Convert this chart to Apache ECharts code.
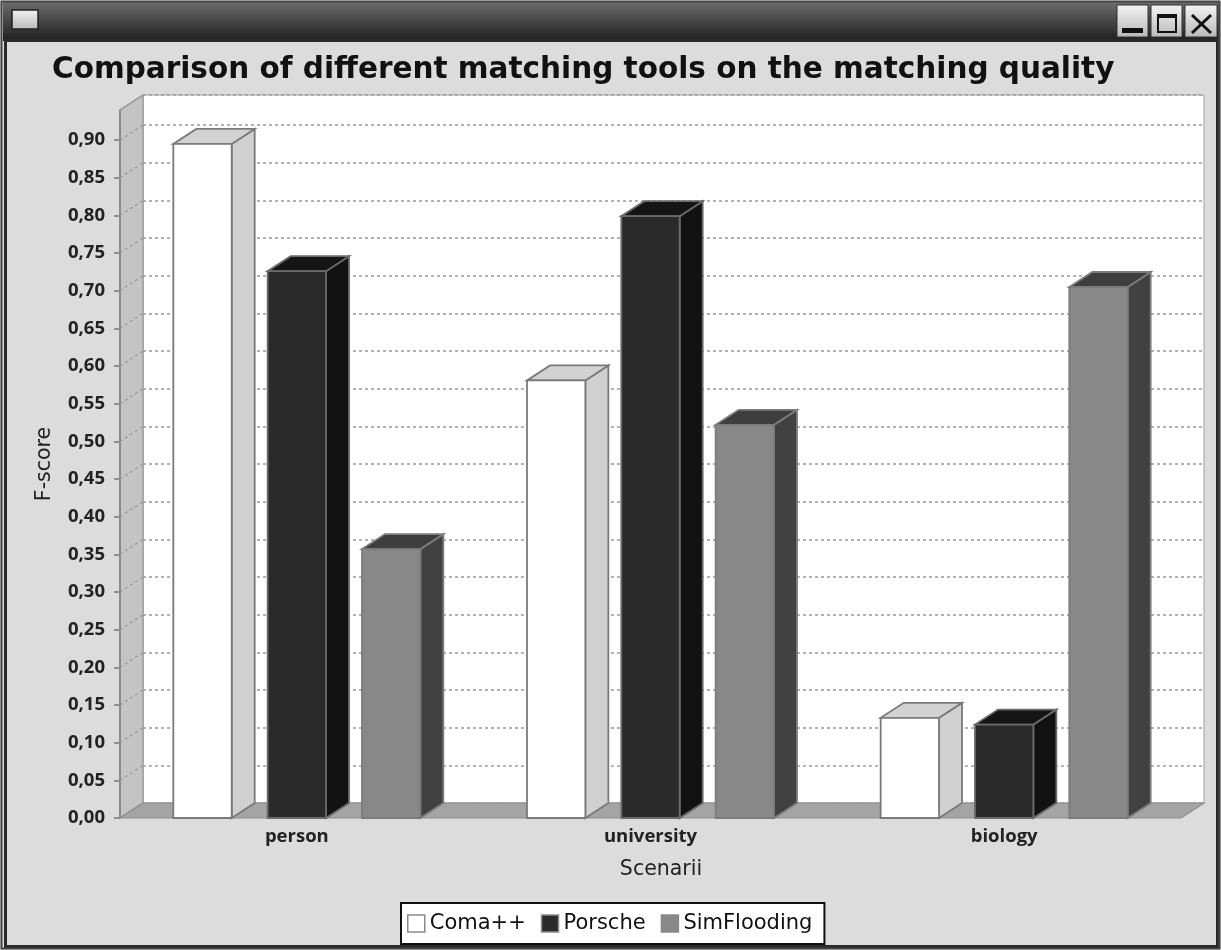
<!DOCTYPE html>
<html>
<head>
<meta charset="utf-8">
<script src="https://cdn.jsdelivr.net/npm/echarts@6/dist/echarts.min.js"></script>
<style>
html,body{margin:0;padding:0;background:#ffffff;}
#chart{width:1221px;height:950px;}
</style>
</head>
<body>
<div id="chart"></div>
<script>
// ---- data ----
const categories = ['person', 'university', 'biology'];
const seriesNames = ['Coma++', 'Porsche', 'SimFlooding'];
const comaValues = [0.895, 0.581, 0.133];
const porscheValues = [0.726, 0.799, 0.124];
const simFloodingValues = [0.357, 0.522, 0.705];
const yTicks = [0.00, 0.05, 0.10, 0.15, 0.20, 0.25, 0.30, 0.35, 0.40, 0.45, 0.50, 0.55, 0.60, 0.65, 0.70, 0.75, 0.80, 0.85, 0.90];
const yMax = 0.94;

// ---- style ----
const FONT = 'DejaVu Sans';
const TICK_FONT = 'Open Sans';
const DX = 23, DY = 15;          // 3D depth offset
const BAR_STEP = 0.2667;          // bar spacing as fraction of category width
const BAR_W = 0.165;              // bar width as fraction of category width
const faceStyles = [
  {front: '#ffffff', top: '#d2d2d2', side: '#d0d0d0', stroke: '#7a7a7a'},
  {front: '#2a2a2a', top: '#151515', side: '#121212', stroke: '#6a6a6a'},
  {front: '#888888', top: '#3e3e3e', side: '#414141', stroke: '#7c7c7c'}
];
const valueLists = [comaValues, porscheValues, simFloodingValues];

function makeBarRender(k) {
  const fs = faceStyles[k];
  return function (params, api) {
    const ci = api.value(0), v = api.value(1);
    const topPt = api.coord([ci, v]);
    const botPt = api.coord([ci, 0]);
    const bw = api.size([1, 0])[0];
    const cx = topPt[0] + (k - 1) * bw * BAR_STEP;
    const w = bw * BAR_W;
    const x0 = cx - w / 2, x1 = cx + w / 2;
    const yT = topPt[1], yB = botPt[1];
    const line = {stroke: fs.stroke, lineWidth: 1.8, lineJoin: 'miter'};
    return {
      type: 'group',
      children: [
        {type: 'polygon', shape: {points: [[x1, yB], [x1, yT], [x1 + DX, yT - DY], [x1 + DX, yB - DY]]},
         style: Object.assign({fill: fs.side}, line)},
        {type: 'polygon', shape: {points: [[x0, yT], [x1, yT], [x1 + DX, yT - DY], [x0 + DX, yT - DY]]},
         style: Object.assign({fill: fs.top}, line)},
        {type: 'rect', shape: {x: x0, y: yT, width: w, height: yB - yT},
         style: Object.assign({fill: fs.front}, line)}
      ]
    };
  };
}

function renderWalls(params, api) {
  const cs = params.coordSys;
  const x0 = cs.x, y0 = cs.y, w = cs.width, h = cs.height;
  const children = [
    {type: 'polygon', shape: {points: [[x0, y0 + h], [x0, y0], [x0 + DX, y0 - DY], [x0 + DX, y0 + h - DY]]},
     style: {fill: '#c4c4c4', stroke: '#9c9c9c', lineWidth: 1.5}},
    {type: 'polygon', shape: {points: [[x0, y0 + h], [x0 + DX, y0 + h - DY], [x0 + w + DX, y0 + h - DY], [x0 + w, y0 + h]]},
     style: {fill: '#a4a4a4', stroke: '#8e8e8e', lineWidth: 1.2}},
    {type: 'line', shape: {x1: x0, y1: y0, x2: x0, y2: y0 + h}, style: {stroke: '#8a8a8a', lineWidth: 2}}
  ];
  yTicks.forEach(function (t) {
    if (t === 0) return;
    const y = api.coord([0, t])[1];
    children.push({type: 'line', shape: {x1: x0, y1: y, x2: x0 + DX, y2: y - DY},
      style: {stroke: '#9a9a9a', lineWidth: 1.3, lineDash: [3, 3]}});
  });
  return {type: 'group', children: children};
}

const chart = echarts.init(document.getElementById('chart'), null, {renderer: 'canvas'});

const barSeries = seriesNames.map(function (name, k) {
  return {
    name: name,
    type: 'custom',
    xAxisIndex: 0, yAxisIndex: 0,
    renderItem: makeBarRender(k),
    clip: false,
    z: 5,
    itemStyle: {color: faceStyles[k].front, borderColor: '#7a7a7a', borderWidth: 1.5},
    encode: {x: 0, y: 1},
    data: valueLists[k].map(function (v, i) { return [i, v]; })
  };
});

const lightGrad = new echarts.graphic.LinearGradient(0, 0, 0, 1, [
  {offset: 0, color: '#f4f4f4'}, {offset: 1, color: '#b8b8b8'}]);

chart.setOption({
  animation: false,
  backgroundColor: '#dcdcdc',
  title: {
    text: 'Comparison of different matching tools on the matching quality',
    left: 52, top: 55, padding: 0,
    textStyle: {fontFamily: FONT, fontSize: 29.5, fontWeight: 'bold', color: '#111111'}
  },
  legend: {
    left: 401, top: 903,
    padding: [10, 12, 10, 6],
    backgroundColor: '#ffffff', borderColor: '#111111', borderWidth: 2,
    itemGap: 15, itemWidth: 17, itemHeight: 17,
    icon: 'rect',
    textStyle: {fontFamily: FONT, fontSize: 21, color: '#111111'},
    data: seriesNames.map(function (n, k) {
      return {name: n, itemStyle: {color: faceStyles[k].front, borderColor: '#8a8a8a', borderWidth: 1.5}};
    })
  },
  grid: [
    {left: 120, top: 110, right: 40, bottom: 132, show: false},
    {left: 143, top: 95, right: 17, bottom: 147, show: true, backgroundColor: '#ffffff', borderColor: '#a0a0a0', borderWidth: 1}
  ],
  xAxis: [
    {
      type: 'category', gridIndex: 0, data: categories,
      axisLine: {show: false}, axisTick: {show: false}, splitLine: {show: false},
      axisLabel: {margin: 9, fontFamily: TICK_FONT, fontSize: 18.5, fontWeight: 'bold', color: '#222222'},
      name: 'Scenarii', nameLocation: 'middle', nameGap: 41,
      nameTextStyle: {fontFamily: FONT, fontSize: 20.5, color: '#222222', padding: [0, 0, 0, 21]}
    },
    {type: 'value', gridIndex: 1, min: 0, max: 1, show: false}
  ],
  yAxis: [
    {
      type: 'value', gridIndex: 0, min: 0, max: yMax, interval: 0.05,
      axisLine: {show: false},
      axisTick: {show: true, length: 6, customValues: yTicks, lineStyle: {color: '#777777', width: 1.5}},
      axisLabel: {
        margin: 15, customValues: yTicks,
        fontFamily: TICK_FONT, fontSize: 18.5, fontWeight: 'bold', color: '#222222',
        formatter: function (v) { return v.toFixed(2).replace('.', ','); }
      },
      splitLine: {show: false},
      name: 'F-score', nameLocation: 'middle', nameGap: 65, nameRotate: 90,
      nameTextStyle: {fontFamily: FONT, fontSize: 20.5, color: '#222222'}
    },
    {
      type: 'value', gridIndex: 1, min: 0, max: yMax, interval: 0.05,
      axisLine: {show: false}, axisTick: {show: false}, axisLabel: {show: false},
      splitLine: {show: true, lineStyle: {color: '#a0a0a0', width: 1.6, type: [3, 3]}}
    }
  ],
  graphic: [
    {type: 'rect', shape: {x: 0, y: 0, width: 1221, height: 2}, style: {fill: '#f4f4f4'}, silent: true},
    {type: 'rect', shape: {x: 3, y: 2, width: 1216, height: 39},
     style: {fill: new echarts.graphic.LinearGradient(0, 0, 0, 1, [
       {offset: 0, color: '#6c6c6c'}, {offset: 1, color: '#1e1e1e'}])}, silent: true},
    {type: 'rect', shape: {x: 5.5, y: 40.5, width: 1212, height: 906}, style: {fill: 'none', stroke: '#2a2a2a', lineWidth: 3}, silent: true},
    {type: 'rect', shape: {x: 1.5, y: 1.5, width: 1218, height: 947}, style: {fill: 'none', stroke: '#444444', lineWidth: 2}, silent: true},
    {type: 'rect', shape: {x: 12, y: 10, width: 26, height: 19}, style: {fill: lightGrad, stroke: '#222222', lineWidth: 1.5}, silent: true},
    {type: 'rect', shape: {x: 1117, y: 5, width: 31, height: 32}, style: {fill: lightGrad, stroke: '#333333', lineWidth: 1}, silent: true},
    {type: 'rect', shape: {x: 1151, y: 5, width: 31, height: 32}, style: {fill: lightGrad, stroke: '#333333', lineWidth: 1}, silent: true},
    {type: 'rect', shape: {x: 1185, y: 5, width: 32, height: 32}, style: {fill: lightGrad, stroke: '#333333', lineWidth: 1}, silent: true},
    {type: 'rect', shape: {x: 1122, y: 28, width: 21, height: 5}, style: {fill: '#111111'}, silent: true},
    {type: 'rect', shape: {x: 1158, y: 15, width: 18, height: 17}, style: {fill: 'none', stroke: '#111111', lineWidth: 2}, silent: true},
    {type: 'rect', shape: {x: 1157, y: 14, width: 20, height: 4}, style: {fill: '#111111'}, silent: true},
    {type: 'line', shape: {x1: 1192, y1: 15, x2: 1211, y2: 33}, style: {stroke: '#111111', lineWidth: 3}, silent: true},
    {type: 'line', shape: {x1: 1211, y1: 15, x2: 1192, y2: 33}, style: {stroke: '#111111', lineWidth: 3}, silent: true}
  ],
  series: [
    {
      name: 'walls', type: 'custom', xAxisIndex: 0, yAxisIndex: 0,
      renderItem: renderWalls, clip: false, silent: true, z: 1,
      data: [[0, 0]]
    }
  ].concat(barSeries)
});
</script>
</body>
</html>
